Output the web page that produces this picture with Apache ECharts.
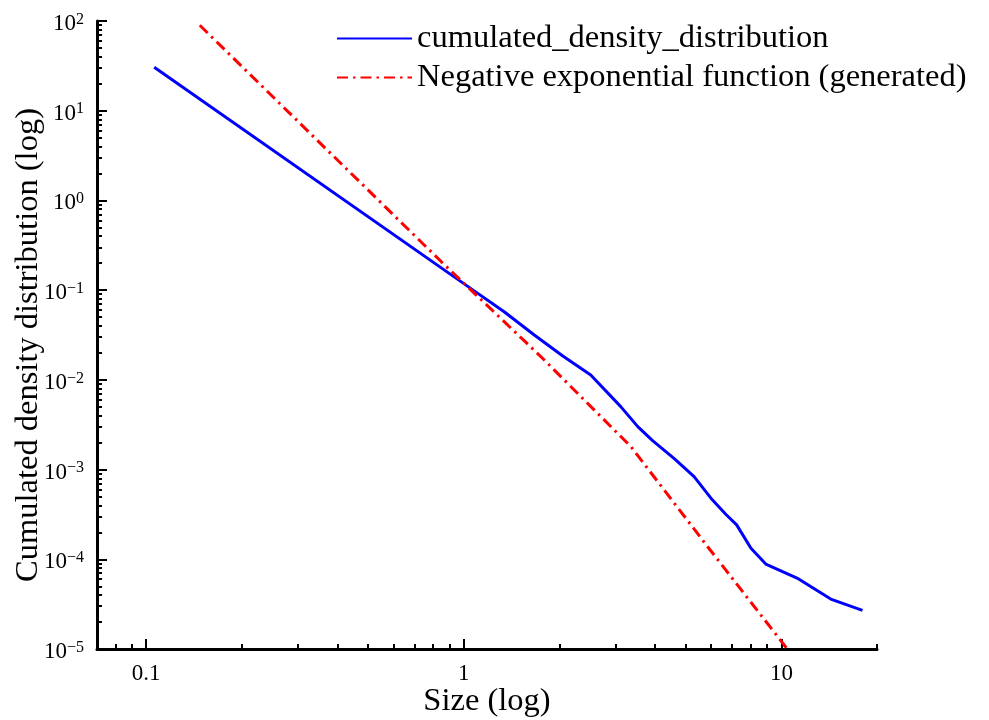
<!DOCTYPE html>
<html>
<head>
<meta charset="utf-8">
<title>Cumulated density distribution</title>
<script src="https://cdn.jsdelivr.net/npm/echarts@6/dist/echarts.min.js"></script>
<style>
  html, body { margin: 0; padding: 0; background: #fff; }
  #box { width: 989px; height: 720px; }
</style>
</head>
<body>
<div id="box"></div>
<script>
// 累计密度分布（蓝色实线）
var sizeCdd = [0.106, 1.07, 1.34, 1.667, 2.05, 2.51, 3.12, 3.53, 3.93, 4.59, 5.31, 6.0, 6.68, 7.23, 8.02, 8.93, 11.2, 14.3, 18.0]
var cdd = [30.5, 0.1, 0.0575, 0.0316, 0.01845, 0.01135, 0.00503, 0.00301, 0.0021, 0.00133, 0.000836, 0.00048, 0.000318, 0.000242, 0.000133, 8.85e-5, 6.18e-5, 3.6e-5, 2.69e-5]

// 负指数函数（红色点划线）
var sizeExp = [0.1475, 0.85, 1.75, 3.36, 5.85, 10.44]
var expVal = [89.6, 0.207, 0.0181, 0.0018, 1.39e-4, 1.0e-5]

// 坐标轴刻度
var xMajorTicks = [0.1, 1, 10]
var xMinorTicks = [0.07, 0.08, 0.09, 0.2, 0.3, 0.4, 0.5, 0.6, 0.7, 0.8, 0.9, 2, 3, 4, 5, 6, 7, 8, 9, 20]
var yMajorTicks = [1e-5, 1e-4, 1e-3, 1e-2, 1e-1, 1e0, 1e1, 1e2]

var yMinorTicks = []
for (var e = -5; e < 2; e++) {
  for (var k = 2; k <= 9; k++) {
    yMinorTicks.push(k * Math.pow(10, e))
  }
}

var seriesNames = ['cumulated_density_distribution', 'Negative exponential function (generated)']
var font = "'Liberation Serif', 'Times New Roman', serif"

function pairs(xs, ys) {
  return xs.map(function (x, i) { return [x, ys[i]] })
}

// 10的幂次标签（上标）
function powLabel(v) {
  var ex = Math.round(Math.log10(v))
  var s = ex < 0 ? '\u2212' + (-ex) : String(ex)
  return '{b|10}{sup|' + s + '}'
}

var axisLine = { show: true, lineStyle: { color: '#000', width: 3 } }

var myChart = echarts.init(document.getElementById('box'))
myChart.setOption({
  animation: false,
  textStyle: { fontFamily: font, color: '#000' },
  grid: { left: 97, right: 112, top: 21, bottom: 71, outerBoundsMode: 'none' },
  legend: {
    orient: 'vertical',
    left: 336,
    top: 22,
    padding: 0,
    itemWidth: 75,
    itemHeight: 14,
    itemGap: 6,
    itemStyle: { opacity: 0 },
    data: seriesNames,
    textStyle: { fontFamily: font, fontSize: 32.5, color: '#000', lineHeight: 33 }
  },
  xAxis: [
    {
      type: 'log',
      min: 0.07,
      max: 20,
      position: 'bottom',
      name: 'Size (log)',
      nameLocation: 'middle',
      nameGap: 36,
      nameMoveOverlap: false,
      nameTextStyle: { fontFamily: font, fontSize: 32.5, color: '#000' },
      axisLine: axisLine,
      axisTick: { inside: true, length: 10, lineStyle: { color: '#000', width: 2 }, customValues: xMajorTicks },
      axisLabel: { fontFamily: font, fontSize: 23, color: '#000', margin: 13, customValues: xMajorTicks },
      splitLine: { show: false }
    },
    {
      type: 'log',
      min: 0.07,
      max: 20,
      position: 'bottom',
      axisLine: { show: false },
      axisTick: { inside: true, length: 5, lineStyle: { color: '#000', width: 2 }, customValues: xMinorTicks },
      axisLabel: { show: false },
      splitLine: { show: false }
    }
  ],
  yAxis: [
    {
      type: 'log',
      min: 1e-5,
      max: 100,
      position: 'left',
      name: 'Cumulated density distribution (log)',
      nameLocation: 'middle',
      nameGap: 52,
      nameMoveOverlap: false,
      nameTextStyle: { fontFamily: font, fontSize: 32.5, color: '#000', padding: [0, 20, 0, 0] },
      axisLine: axisLine,
      axisTick: { inside: true, length: 10, lineStyle: { color: '#000', width: 2 }, customValues: yMajorTicks },
      axisLabel: {
        margin: 13,
        customValues: yMajorTicks,
        formatter: powLabel,
        padding: [5, 0, 0, 0],
        rich: {
          b: { fontFamily: font, fontSize: 23, color: '#000', lineHeight: 24, verticalAlign: 'bottom' },
          sup: { fontFamily: font, fontSize: 16, color: '#000', lineHeight: 16, verticalAlign: 'top' }
        }
      },
      splitLine: { show: false }
    },
    {
      type: 'log',
      min: 1e-5,
      max: 100,
      position: 'left',
      axisLine: { show: false },
      axisTick: { inside: true, length: 5, lineStyle: { color: '#000', width: 2 }, customValues: yMinorTicks },
      axisLabel: { show: false },
      splitLine: { show: false }
    }
  ],
  series: [
    {
      name: seriesNames[0],
      type: 'line',
      symbol: 'none',
      color: '#0000ff',
      lineStyle: { width: 3, color: '#0000ff' },
      data: pairs(sizeCdd, cdd)
    },
    {
      name: seriesNames[1],
      type: 'line',
      symbol: 'none',
      color: '#ff0000',
      lineStyle: { width: 3, color: '#ff0000', type: [11, 5, 2.5, 5] },
      data: pairs(sizeExp, expVal)
    }
  ]
})
</script>
</body>
</html>
